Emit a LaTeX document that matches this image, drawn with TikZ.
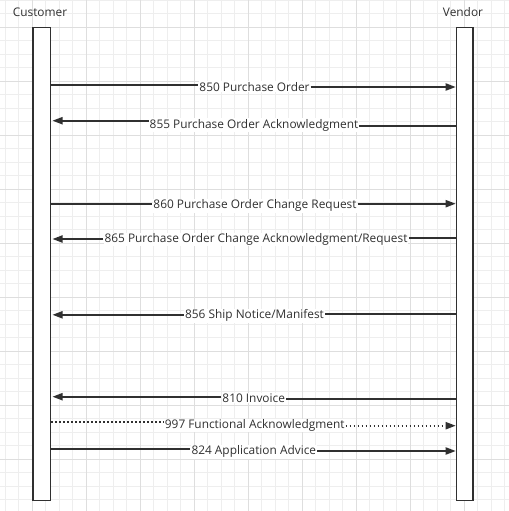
\documentclass[tikz,border=0pt]{standalone}
\usepackage{fontspec}
\setmainfont{Open Sans}
\usetikzlibrary{arrows.meta,fit}
\definecolor{ink}{HTML}{303030}
\definecolor{gridminor}{HTML}{EEEEEE}
\definecolor{gridmajor}{HTML}{DEDEDE}
\tikzset{
  minorline/.style={draw=gridminor, line width=0.75pt},
  majorline/.style={draw=gridmajor, line width=0.75pt},
  life/.style={draw=ink, line width=1.35pt, fill=white, inner sep=0pt},
  msg/.style={draw=ink, line width=1.25pt},
  dottedmsg/.style={msg, dash pattern=on 1.3pt off 1.7pt},
  tip/.style={-{Triangle[length=7.6pt,width=5.4pt]}},
  lab/.style={fill=white, text=ink, font=\fontsize{8.9pt}{10.5pt}\selectfont,
    inner xsep=0.7pt, inner ysep=0.6pt, anchor=base, yshift=-3.2pt},
  head/.style={text=ink, font=\fontsize{8.9pt}{10.5pt}\selectfont, anchor=base, inner sep=0pt},
}
\begin{document}
\begin{tikzpicture}[x=0.75pt, y=-0.75pt]
\useasboundingbox (0,0) rectangle (509,511);
\fill[white] (0,0) rectangle (509,511);
% grid
\foreach \k in {-2,...,35} {
  \draw[minorline] ({32.3+13.5*\k},0) -- ({32.3+13.5*\k},511);
  \draw[minorline] (0,{27+13.5*\k}) -- (509,{27+13.5*\k});
}
\foreach \k in {0,...,8} {
  \draw[majorline] ({32.3+54*\k},0) -- ({32.3+54*\k},511);
  \draw[majorline] (0,{27+54*\k}) -- (509,{27+54*\k});
}
% headings
\node[head] (hc) at (40,16) {Customer};
\node[head] (hv) at (463,16) {Vendor};
% lifelines
\node[life, fit={(33.2,27.5) (50.5,500.5)}] (L) {};
\node[life, fit={(456.5,27.5) (472.7,500.5)}] (R) {};
% message end points
\coordinate (a850) at (L.east |- 0,85);
\coordinate (b850) at (455.7,87);
\coordinate (a855) at (R.west |- 0,126);
\coordinate (b855) at (52.5,120.7);
\coordinate (a860) at (L.east |- 0,203.7);
\coordinate (b860) at (455.7,203.7);
\coordinate (a865) at (R.west |- 0,238.3);
\coordinate (b865) at (52.5,239);
\coordinate (a856) at (R.west |- 0,314.2);
\coordinate (b856) at (52.5,314.8);
\coordinate (a810) at (R.west |- 0,399);
\coordinate (b810) at (52.5,396.7);
\coordinate (a997) at (L.east |- 0,421.7);
\coordinate (b997) at (455.7,425.7);
\coordinate (a824) at (L.east |- 0,449);
\coordinate (b824) at (455.7,451);
% labels
\node[lab] (l850) at (254.5,86.8) {850 Purchase Order};
\node[lab] (l855) at (254,123.8) {855 Purchase Order Acknowledgment};
\node[lab] (l860) at (255,204.6) {860 Purchase Order Change Request};
\node[lab] (l865) at (256,238.5) {865 Purchase Order Change Acknowledgment/Request};
\node[lab] (l856) at (254.5,314.6) {856 Ship Notice/Manifest};
\node[lab] (l810) at (253.7,398.2) {810 Invoice};
\node[lab] (l997) at (254.7,424.2) {997 Functional Acknowledgment};
\node[lab] (l824) at (253.8,450.6) {824 Application Advice};
% connectors
\draw[msg] (a850) -- (a850 -| l850.west);
\draw[msg, tip] (l850.east |- b850) -- (b850);
\draw[msg] (a855) -- (a855 -| l855.east);
\draw[msg, tip] (l855.west |- b855) -- (b855);
\draw[msg] (a860) -- (a860 -| l860.west);
\draw[msg, tip] (l860.east |- b860) -- (b860);
\draw[msg] (a865) -- (a865 -| l865.east);
\draw[msg, tip] (l865.west |- b865) -- (b865);
\draw[msg] (a856) -- (a856 -| l856.east);
\draw[msg, tip] (l856.west |- b856) -- (b856);
\draw[msg] (a810) -- (a810 -| l810.east);
\draw[msg, tip] (l810.west |- b810) -- (b810);
\draw[dottedmsg] (a997) -- (a997 -| l997.west);
\draw[dottedmsg, tip] (l997.east |- b997) -- (b997);
\draw[msg] (a824) -- (a824 -| l824.west);
\draw[msg, tip] (l824.east |- b824) -- (b824);
\end{tikzpicture}
\end{document}
